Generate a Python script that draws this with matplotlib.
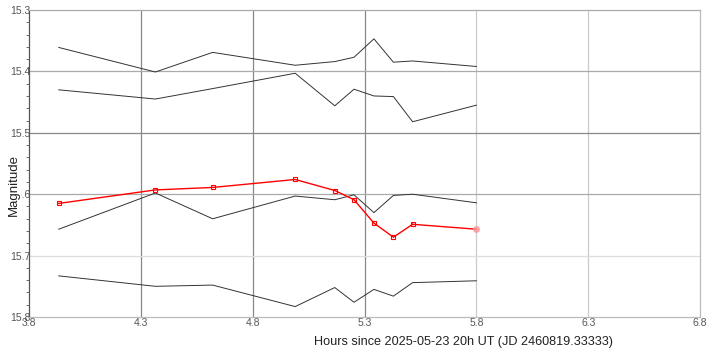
import matplotlib.pyplot as plt
from matplotlib.ticker import MultipleLocator

plt.rcParams['font.family'] = ['Liberation Sans', 'DejaVu Sans']

hours = [3.933, 4.365, 4.621, 4.99, 5.167, 5.253, 5.342, 5.429, 5.515, 5.80]

target = [15.615, 15.593, 15.589, 15.576, 15.594, 15.609, 15.647, 15.670, 15.649, 15.657]
comp1 = [15.361, 15.401, 15.369, 15.390, 15.384, 15.377, 15.347, 15.385, 15.383, 15.392]
comp2 = [15.430, 15.445, 15.428, 15.403, 15.456, 15.429, 15.440, 15.441, 15.482, 15.455]
comp3 = [15.657, 15.598, 15.640, 15.603, 15.609, 15.601, 15.630, 15.602, 15.600, 15.614]
comp4 = [15.733, 15.750, 15.748, 15.783, 15.752, 15.776, 15.755, 15.766, 15.744, 15.741]

xticks = [3.8, 4.3, 4.8, 5.3, 5.8, 6.3, 6.8]
yticks = [15.3, 15.4, 15.5, 15.6, 15.7, 15.8]

fig = plt.figure(figsize=(7.18, 3.57), dpi=100)
ax = fig.add_axes([0.0404, 0.112, 0.9346, 0.860])

# grid lines, different shades like the original
vgrid = {4.3: '#888888', 4.8: '#888888', 5.3: '#888888', 5.8: '#cccccc', 6.3: '#cccccc'}
for x, c in vgrid.items():
    ax.axvline(x, color=c, lw=0.9, zorder=0)
hgrid = {15.4: '#aaaaaa', 15.5: '#888888', 15.6: '#aaaaaa', 15.7: '#dddddd'}
for y, c in hgrid.items():
    ax.axhline(y, color=c, lw=0.9, zorder=0)

for comp in [comp1, comp2, comp3, comp4]:
    ax.plot(hours, comp, color='#333333', lw=0.7)

ax.plot(hours[:-1], target[:-1], color='red', lw=1.0, marker='s', ms=3,
        mfc='none', mec='red', mew=0.8)
ax.plot(hours[-2:], target[-2:], color='red', lw=1.0)
ax.plot(hours[-1], target[-1], 'o', ms=4, color='#ff9999', alpha=0.8)

ax.set_xlim(3.8, 6.8)
ax.set_ylim(15.8, 15.3)
ax.set_xticks(xticks)
ax.set_xticklabels([str(x) for x in xticks])
ax.set_yticks(yticks)
ax.set_yticklabels([str(y) for y in yticks])
ax.yaxis.set_minor_locator(MultipleLocator(0.02))
ax.tick_params(axis='both', which='major', length=0, labelsize=7.5, colors='#555555', pad=1)
ax.tick_params(axis='y', which='minor', length=2, color='#555555', direction='out')
ax.tick_params(axis='y', which='major', pad=-1)

ax.spines['left'].set_color('#555555')
ax.spines['bottom'].set_color('#bbbbbb')
ax.spines['top'].set_color('#aaaaaa')
ax.spines['right'].set_color('#bbbbbb')
for s in ax.spines.values():
    s.set_linewidth(0.9)

ax.set_xlabel('Hours since 2025-05-23 20h UT (JD 2460819.33333)', fontsize=9.1, color='#222222')
ax.xaxis.set_label_coords(0.648, -0.062)
# in the original the axis title sits over the 15.6 label
ax.set_ylabel('Magnitude', fontsize=9.5, color='#222222',
              bbox=dict(facecolor='white', edgecolor='none', pad=0.5))
ax.yaxis.set_label_coords(-0.013, 0.43)
ax.yaxis.label.set_zorder(5)

fig.savefig('out.png', dpi=100)
